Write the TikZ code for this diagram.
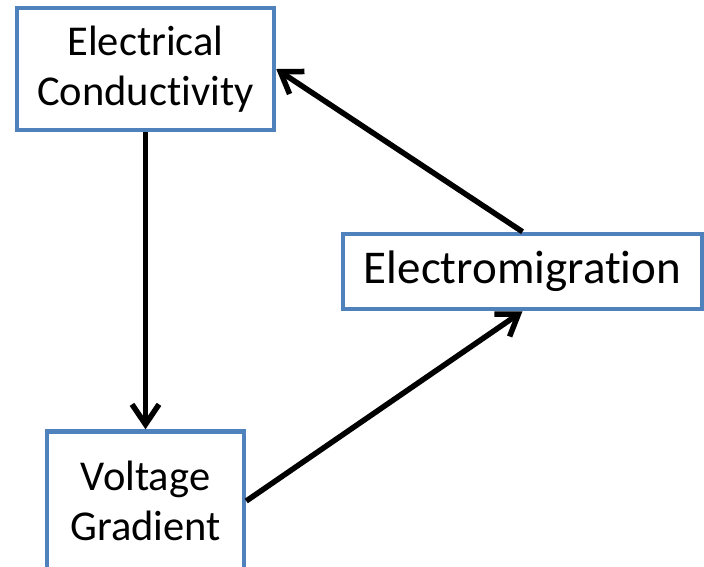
\documentclass[tikz,border=0pt]{standalone}
\usepackage{fontspec}
\setmainfont{Carlito}[Ligatures=NoCommon]
\usetikzlibrary{arrows.meta, positioning}
\definecolor{boxblue}{HTML}{4F81BD}
\tikzset{
    box/.style={rectangle, draw=boxblue, line width=4.5pt, fill=white, align=center, inner sep=0pt, font=\fontsize{42.5}{50}\selectfont},
    bigbox/.style={box, font=\fontsize{47}{56}\selectfont},
    arrow/.style={-{Straight Barb[length=20pt, width=27pt, line width=5.5pt]}, line width=5.5pt, draw=black}
}
\begin{document}
\begin{tikzpicture}[x=1pt, y=-1pt]
    \useasboundingbox (0,0) rectangle (704,566);
    \clip (0,0) rectangle (704,566);
    \node[box, minimum width=257pt, minimum height=122pt] (cond) at (145.5,69) {Electrical\\Conductivity};
    \node[box, below=297pt of cond, minimum width=197pt, minimum height=139pt] (volt) {Voltage\\Gradient};
    \node[bigbox, minimum width=359pt, minimum height=75pt] (emig) at (522.5,271.5) {Electromigration};
    \draw[arrow] (cond) -- (volt);
    \draw[arrow] (volt.east) -- (emig.south);
    \draw[arrow] (emig.north) -- (cond.east);
\end{tikzpicture}
\end{document}
